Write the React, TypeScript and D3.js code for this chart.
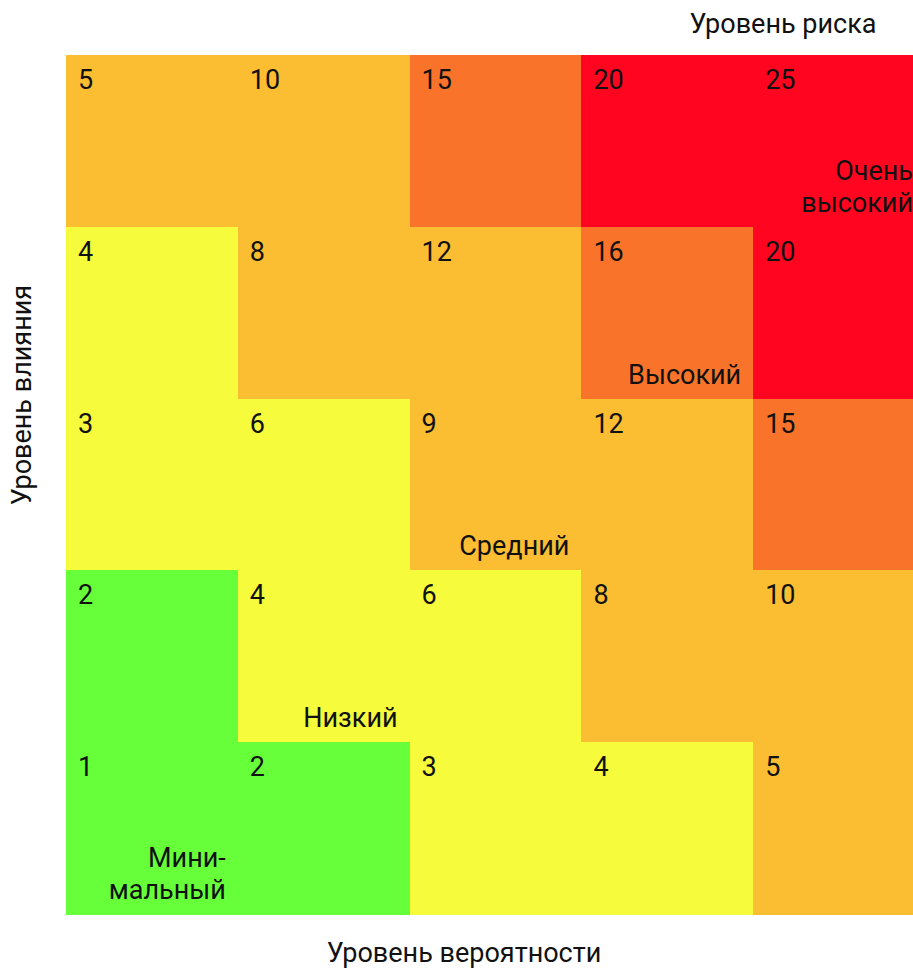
import React, { useEffect, useRef } from 'react';
import * as d3 from 'd3';

// probability (columns) and impact (rows)
const probabilities = [1, 2, 3, 4, 5];
const impacts = [5, 4, 3, 2, 1];

// risk level per cell, rows top→bottom (impact 5..1), columns prob 1..5
// 0 minimal, 1 low, 2 medium, 3 high, 4 very high
const levelMatrix = [
  [2, 2, 3, 4, 4],
  [1, 2, 2, 3, 4],
  [1, 1, 2, 2, 3],
  [0, 1, 1, 2, 2],
  [0, 0, 1, 1, 2],
];

const levelColors = ['#66FF3A', '#F6FB3B', '#FBBE33', '#F9742A', '#FF0520'];

const levelNames: string[][] = [
  ['Мини-', 'мальный'],
  ['Низкий'],
  ['Средний'],
  ['Высокий'],
  ['Очень', 'высокий'],
];
// cell (probability, impact) where each level's name sits
const levelAnchorProb = [1, 2, 3, 4, 5];
const levelAnchorImpact = [1, 2, 3, 4, 5];

const titleTop = 'Уровень риска';
const titleX = 'Уровень вероятности';
const titleY = 'Уровень влияния';

const W = 913, H = 970;

const App: React.FC = () => {
  const ref = useRef<SVGSVGElement>(null);

  useEffect(() => {
    if (!ref.current) return;
    const svg = d3.select(ref.current);
    svg.selectAll('*').remove();
    const font = 'Roboto, "Noto Sans", sans-serif';
    const fs = '27px';

    const x = d3.scaleBand<number>().domain(probabilities).range([66, 925]);
    const y = d3.scaleBand<number>().domain(impacts).range([55, 914]);

    const cells: { p: number; i: number; level: number }[] = [];
    impacts.forEach((imp, r) => {
      probabilities.forEach((p, c) => {
        cells.push({ p, i: imp, level: levelMatrix[r][c] });
      });
    });

    svg.append('g')
      .selectAll('rect')
      .data(cells)
      .enter()
      .append('rect')
      .attr('x', d => x(d.p)!)
      .attr('y', d => y(d.i)!)
      .attr('width', x.bandwidth() + 0.5)
      .attr('height', y.bandwidth() + 0.5)
      .attr('fill', d => levelColors[d.level])
      .attr('shape-rendering', 'crispEdges');

    // score in each cell
    svg.append('g')
      .selectAll('text')
      .data(cells)
      .enter()
      .append('text')
      .attr('x', d => x(d.p)! + 12)
      .attr('y', d => y(d.i)! + 34)
      .style('font-family', font)
      .style('font-size', fs)
      .attr('fill', '#111')
      .text(d => d.p * d.i);

    // level names, bottom-right of anchor cell
    levelNames.forEach((lines, k) => {
      const px = x(levelAnchorProb[k])! + x.bandwidth() - 12;
      const bottom = y(levelAnchorImpact[k])! + y.bandwidth() - 15;
      const t = svg.append('text')
        .attr('text-anchor', 'end')
        .style('font-family', font)
        .style('font-size', fs)
        .attr('fill', '#111');
      lines.forEach((ln, j) => {
        t.append('tspan')
          .attr('x', px)
          .attr('y', bottom - (lines.length - 1 - j) * 32)
          .text(ln);
      });
    });

    svg.append('text')
      .attr('x', 783).attr('y', 33)
      .attr('text-anchor', 'middle')
      .style('font-family', font).style('font-size', fs)
      .attr('fill', '#111')
      .text(titleTop);

    svg.append('text')
      .attr('x', 464).attr('y', 962)
      .attr('text-anchor', 'middle')
      .style('font-family', font).style('font-size', fs)
      .attr('fill', '#111')
      .text(titleX);

    svg.append('text')
      .attr('transform', 'translate(31,395) rotate(-90)')
      .attr('text-anchor', 'middle')
      .style('font-family', font).style('font-size', fs)
      .attr('fill', '#111')
      .text(titleY);
  }, []);

  return (
    <svg
      ref={ref}
      width={W}
      height={H}
      style={{ position: 'absolute', left: 0, top: 0, background: '#fff' }}
    />
  );
};

export default App;
